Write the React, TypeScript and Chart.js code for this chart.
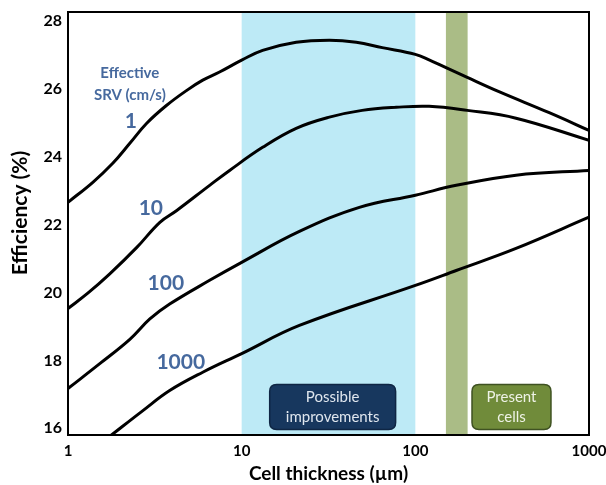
import React, { useEffect, useRef } from "react";
import { Chart, registerables } from "chart.js";

Chart.register(...registerables);

// ---- data ----
const thicknessTicks = [1, 10, 100, 1000];
const efficiencyTicks = [16, 18, 20, 22, 24, 26, 28];

const srv1X = [1, 1.39, 1.81, 2.27, 2.84, 3.7, 4.83, 5.97, 7.46, 10, 13.2, 20.6, 32, 45.7, 64.5, 100, 120, 147, 199, 303, 590, 1000];
const srv1Y = [22.66, 23.25, 23.81, 24.4, 24.99, 25.52, 25.96, 26.26, 26.5, 26.85, 27.14, 27.38, 27.44, 27.38, 27.22, 27.02, 26.86, 26.65, 26.34, 25.92, 25.3, 24.78];

const srv10X = [1, 1.3, 1.74, 2.49, 3.38, 4.23, 6.54, 8.52, 13.2, 20.6, 32, 49.4, 77.6, 120, 199, 380, 1000];
const srv10Y = [19.53, 19.98, 20.55, 21.33, 22.07, 22.42, 23.16, 23.6, 24.28, 24.84, 25.17, 25.37, 25.46, 25.49, 25.37, 25.14, 24.49];

const srv100X = [1, 1.53, 2.27, 2.96, 3.85, 6.54, 10, 21.5, 47.6, 100, 172, 380, 1000];
const srv100Y = [17.17, 17.91, 18.62, 19.22, 19.66, 20.36, 20.89, 21.8, 22.51, 22.87, 23.16, 23.46, 23.6];

const srv1000X = [1.78, 2.7, 3.85, 5.97, 10, 21.5, 100, 172, 380, 1000];
const srv1000Y = [15.8, 16.52, 17.11, 17.65, 18.2, 19.03, 20.21, 20.65, 21.3, 22.22];

const improvementBand = [10, 100];
const presentBand = [150, 200];

// annotation anchors in data coordinates
const srvLabels = [
  { text: "1", x: 2.3, y: 25.05 },
  { text: "10", x: 3.0, y: 22.48 },
  { text: "100", x: 3.66, y: 20.27 },
  { text: "1000", x: 4.46, y: 17.94 },
];
const srvTitle = [
  { text: "Effective", x: 2.27, y: 26.47 },
  { text: "SRV (cm/s)", x: 2.27, y: 25.82 },
];
const boxes = [
  { lines: ["Possible", "improvements"], x0: 14.5, x1: 77, y0: 15.96, y1: 17.29, fill: "#17375e", stroke: "#0f2644", color: "#dfe6ee" },
  { lines: ["Present", "cells"], x0: 212, x1: 604, y0: 15.96, y1: 17.29, fill: "#708b3a", stroke: "#3f5222", color: "#eef2e6" },
];
const yTitle = "Efficiency (%)";
const xTitle = "Cell thickness (µm)";

const toPts = (xs: number[], ys: number[]) => xs.map((x, i) => ({ x, y: ys[i] }));

const FONT = "Lato, 'Open Sans', sans-serif";

function roundRect(ctx: CanvasRenderingContext2D, x: number, y: number, w: number, h: number, r: number) {
  ctx.beginPath();
  ctx.moveTo(x + r, y);
  ctx.lineTo(x + w - r, y);
  ctx.quadraticCurveTo(x + w, y, x + w, y + r);
  ctx.lineTo(x + w, y + h - r);
  ctx.quadraticCurveTo(x + w, y + h, x + w - r, y + h);
  ctx.lineTo(x + r, y + h);
  ctx.quadraticCurveTo(x, y + h, x, y + h - r);
  ctx.lineTo(x, y + r);
  ctx.quadraticCurveTo(x, y, x + r, y);
  ctx.closePath();
}

const decorPlugin = {
  id: "decor",
  beforeDatasetsDraw(chart: any) {
    const { ctx, chartArea } = chart;
    const xs = chart.scales.x;
    ctx.save();
    ctx.fillStyle = "#bdeaf6";
    let a = xs.getPixelForValue(improvementBand[0]);
    let b = xs.getPixelForValue(improvementBand[1]);
    ctx.fillRect(a, chartArea.top, b - a, chartArea.bottom - chartArea.top);
    ctx.fillStyle = "#aabc86";
    a = xs.getPixelForValue(presentBand[0]);
    b = xs.getPixelForValue(presentBand[1]);
    ctx.fillRect(a, chartArea.top, b - a, chartArea.bottom - chartArea.top);
    ctx.restore();
  },
  afterDatasetsDraw(chart: any) {
    const { ctx, chartArea } = chart;
    const xs = chart.scales.x;
    const ys = chart.scales.y;
    ctx.save();
    // boxes
    for (const bx of boxes) {
      const l = xs.getPixelForValue(bx.x0);
      const r = xs.getPixelForValue(bx.x1);
      const t = ys.getPixelForValue(bx.y1);
      const btm = ys.getPixelForValue(bx.y0);
      roundRect(ctx, l, t, r - l, btm - t, 7);
      ctx.fillStyle = bx.fill;
      ctx.fill();
      ctx.lineWidth = 1.5;
      ctx.strokeStyle = bx.stroke;
      ctx.stroke();
      ctx.fillStyle = bx.color;
      ctx.font = `15px ${FONT}`;
      ctx.textAlign = "center";
      ctx.textBaseline = "middle";
      const cx = (l + r) / 2;
      const cy = (t + btm) / 2;
      ctx.fillText(bx.lines[0], cx, cy - 10);
      ctx.fillText(bx.lines[1], cx, cy + 10);
    }
    // srv labels
    ctx.fillStyle = "#46699e";
    ctx.textAlign = "center";
    ctx.textBaseline = "middle";
    ctx.font = `bold 15px ${FONT}`;
    for (const s of srvTitle) {
      ctx.fillText(s.text, xs.getPixelForValue(s.x), ys.getPixelForValue(s.y));
    }
    ctx.font = `bold 21px ${FONT}`;
    for (const s of srvLabels) {
      ctx.fillText(s.text, xs.getPixelForValue(s.x), ys.getPixelForValue(s.y));
    }
    // frame
    ctx.strokeStyle = "#000";
    ctx.lineWidth = 2;
    ctx.strokeRect(chartArea.left, chartArea.top, chartArea.right - chartArea.left, chartArea.bottom - chartArea.top);
    // y axis title
    ctx.fillStyle = "#000";
    ctx.font = `bold 21px ${FONT}`;
    ctx.translate(20, 213);
    ctx.rotate(-Math.PI / 2);
    ctx.fillText(yTitle, 0, 0);
    ctx.restore();
  },
};

const lineDs = (label: string, xs: number[], ys: number[]) => ({
  label,
  data: toPts(xs, ys),
  borderColor: "#000",
  borderWidth: 3,
  pointRadius: 0,
  fill: false,
  tension: 0.4,
  borderCapStyle: "round" as const,
  borderJoinStyle: "round" as const,
});

export default function App() {
  const ref = useRef<HTMLCanvasElement>(null);
  useEffect(() => {
    document.body.style.margin = "0";
    const canvas = ref.current!;
    const chart = new Chart(canvas, {
      type: "line",
      data: {
        datasets: [
          lineDs("1", srv1X, srv1Y),
          lineDs("10", srv10X, srv10Y),
          lineDs("100", srv100X, srv100Y),
          lineDs("1000", srv1000X, srv1000Y),
        ],
      },
      options: {
        animation: false,
        responsive: false,
        layout: { padding: { left: 0, right: 17, top: 12, bottom: 0 } },
        plugins: { legend: { display: false }, tooltip: { enabled: false } },
        scales: {
          x: {
            type: "logarithmic",
            min: 1,
            max: 1000,
            grid: { display: false, drawTicks: false },
            border: { display: false },
            afterBuildTicks: (s: any) => {
              s.ticks = thicknessTicks.map((v) => ({ value: v }));
            },
            afterFit: (s: any) => {
              s.height = 50;
              s.paddingLeft = 0;
              s.paddingRight = 0;
            },
            ticks: {
              autoSkip: false,
              maxRotation: 0,
              padding: 7,
              color: "#000",
              font: { family: FONT, size: 15, weight: "bold" },
              callback: (v: any) => String(v),
            },
            title: {
              display: true,
              text: xTitle,
              color: "#000",
              font: { family: FONT, size: 19, weight: "bold" },
              padding: { top: 1, bottom: 0 },
            },
          },
          y: {
            type: "linear",
            min: 15.8,
            max: 28.27,
            grid: { display: false, drawTicks: false },
            border: { display: false },
            afterBuildTicks: (s: any) => {
              s.ticks = efficiencyTicks.map((v) => ({ value: v }));
            },
            afterFit: (s: any) => {
              s.width = 68;
              s.paddingTop = 0;
              s.paddingBottom = 0;
            },
            ticks: {
              padding: 6,
              color: "#000",
              font: { family: FONT, size: 16, weight: "bold" },
              callback: (v: any) => String(v),
            },
          },
        },
      },
      plugins: [decorPlugin],
    });
    return () => chart.destroy();
  }, []);
  return (
    <div style={{ width: 606, height: 485 }}>
      <canvas ref={ref} width={606} height={485} style={{ width: 606, height: 485, display: "block" }} />
    </div>
  );
}
